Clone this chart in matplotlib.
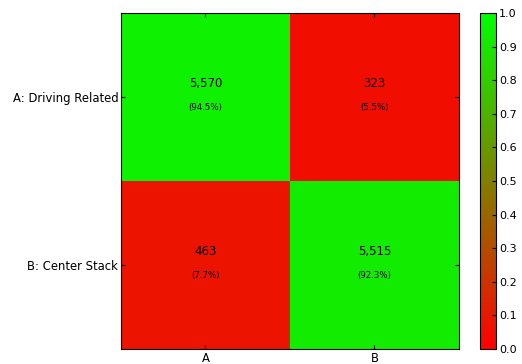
import numpy as np
import matplotlib
matplotlib.use('Agg')
import matplotlib.pyplot as plt
from matplotlib.colors import LinearSegmentedColormap

classes = ['A: Driving Related', 'B: Center Stack']
short_names = ['A', 'B']
counts = np.array([[5570, 323],
                   [463, 5515]])
percents = np.array([[94.5, 5.5],
                     [7.7, 92.3]])

plt.rcParams['font.family'] = 'DejaVu Sans'
plt.rcParams['xtick.direction'] = 'in'
plt.rcParams['ytick.direction'] = 'in'

cmap = LinearSegmentedColormap.from_list('red_green', [(1, 0, 0), (0, 1, 0)])

fig = plt.figure(figsize=(5.22, 3.64), dpi=100)
ax = fig.add_axes([0.2318, 0.0412, 0.6475, 0.923])
cax = fig.add_axes([0.9195, 0.0412, 0.0307, 0.923])

norm_cm = percents / 100.0
im = ax.imshow(norm_cm, cmap=cmap, vmin=0, vmax=1, interpolation='nearest', aspect='auto')

for i in range(2):
    for j in range(2):
        ax.text(j, i - 0.08, '{:,}'.format(counts[i, j]), ha='center', va='center', fontsize=8.5)
        ax.text(j, i + 0.06, '({:.1f}%)'.format(percents[i, j]), ha='center', va='center', fontsize=6.2)

ax.set_xticks(range(2))
ax.set_xticklabels(short_names, fontsize=8.4)
ax.set_yticks(range(2))
ax.set_yticklabels(classes, fontsize=8.4)
ax.tick_params(top=True, right=True, length=3, pad=2)

cb = fig.colorbar(im, cax=cax, ticks=np.arange(0, 1.01, 0.1))
cb.ax.tick_params(labelsize=8, direction='in', length=3, pad=2)
cb.ax.set_yticklabels(['{:.1f}'.format(t) for t in np.arange(0, 1.01, 0.1)])

fig.savefig('out.png', dpi=100)
